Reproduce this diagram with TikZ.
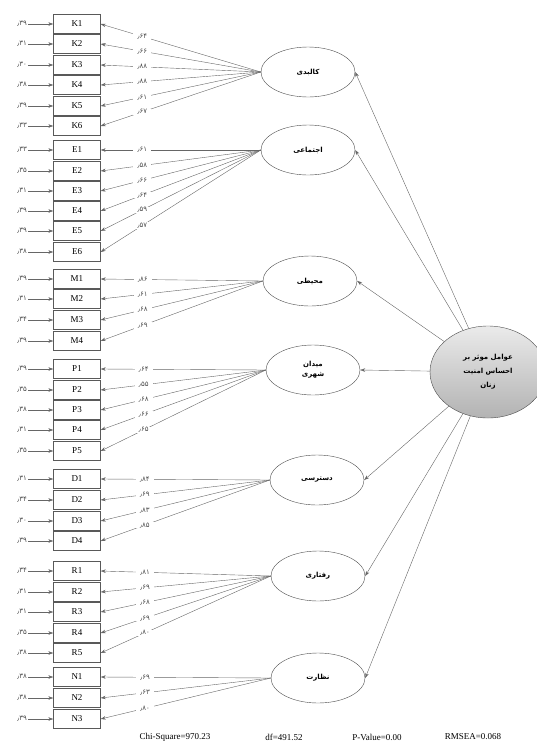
\documentclass[tikz,border=0pt]{standalone}
\usepackage{fontspec}
\setmainfont{Liberation Serif}
\newfontfamily\farsi[Script=Arabic]{DejaVu Sans}
\TeXXeTstate=1
\usetikzlibrary{arrows.meta}
\usetikzlibrary{shapes.geometric}

\tikzset{
  ind/.style={draw=black!65, minimum width=47pt, minimum height=19pt, inner sep=0pt, font=\small},
  errlab/.style={font=\farsi\scriptsize, text=black!70, inner sep=1pt},
  lam/.style={font=\farsi\scriptsize, text=black!70, fill=white, inner xsep=4pt, inner ysep=0.5pt},
  latent/.style={ellipse, draw=black!70, minimum width=94pt, minimum height=50pt, inner sep=1pt, font=\farsi\scriptsize\bfseries, align=center},
  arr/.style={draw=black!60, -{Stealth[length=5pt,width=3.5pt]}}
}

\begin{document}
\begin{tikzpicture}[x=1pt, y=-1pt]
    \useasboundingbox (0,0) rectangle (537,745);
    % latent factors
    \node[latent] (kal) at (308,72)  {\beginR کالبدی\endR};
    \node[latent] (ejt) at (308,150) {\beginR اجتماعی\endR};
    \node[latent] (moh) at (310,281) {\beginR محیطی\endR};
    \node[latent] (mid) at (313,370) {\beginR میدان\endR\\[2pt]\beginR شهری\endR};
    \node[latent] (das) at (317,480) {\beginR دسترسی\endR};
    \node[latent] (raf) at (318,576) {\beginR رفتاری\endR};
    \node[latent] (nez) at (318,678) {\beginR نظارت\endR};
    \node[latent, minimum width=116pt, minimum height=92pt, top color=black!8, bottom color=black!30] (main) at (488,372)
        {\beginR عوامل موثر بر\endR\\[6pt]\beginR احساس امنیت\endR\\[6pt]\beginR زنان\endR};
    % indicators: name / y / error / loading / factor
    \foreach \nm/\y/\er/\ld/\lat in {
        K1/24/۳۹/۶۴/kal, K2/44/۳۱/۶۶/kal, K3/65/۳۰/۸۸/kal, K4/85/۳۸/۸۸/kal, K5/106/۳۹/۶۱/kal, K6/126/۳۳/۶۷/kal,
        E1/150/۳۳/۶۱/ejt, E2/171/۳۵/۵۸/ejt, E3/191/۳۱/۶۶/ejt, E4/211/۳۹/۶۴/ejt, E5/231/۳۹/۵۹/ejt, E6/252/۳۸/۵۷/ejt,
        M1/279/۳۹/۸۶/moh, M2/299/۳۱/۶۱/moh, M3/320/۳۴/۶۸/moh, M4/341/۳۹/۶۹/moh,
        P1/369/۳۹/۶۴/mid, P2/390/۳۵/۵۵/mid, P3/410/۳۸/۶۸/mid, P4/430/۳۱/۶۶/mid, P5/451/۳۵/۶۵/mid,
        D1/479/۳۱/۸۴/das, D2/500/۳۴/۶۹/das, D3/521/۳۰/۸۳/das, D4/541/۳۹/۸۵/das,
        R1/571/۳۴/۸۱/raf, R2/592/۳۱/۶۹/raf, R3/612/۳۱/۶۸/raf, R4/633/۳۵/۶۹/raf, R5/653/۳۸/۸۰/raf,
        N1/677/۳۸/۶۹/nez, N2/698/۳۸/۶۳/nez, N3/719/۳۹/۸۰/nez} {
        \node[ind] (\nm) at (77,\y) {\nm};
        \node[errlab] (e\nm) at (22,\y) {٫\er};
        \draw[arr] (e\nm) -- (\nm);
        \draw[arr] (\lat.west) -- node[lam, pos=0.74] {٫\ld} (\nm.east);
    }
    % structural paths
    \foreach \lat in {kal,ejt,moh,mid,das,raf,nez}
        \draw[arr] (main) -- (\lat.east);
    % fit indices
    \node[font=\small] (chi) at (175,737) {Chi-Square=970.23};
    \node[font=\small] (df) at (284,737) {df=491.52};
    \node[font=\small] (pv) at (377,737) {P-Value=0.00};
    \node[font=\small] (rmsea) at (473,737) {RMSEA=0.068};
\end{tikzpicture}
\end{document}
